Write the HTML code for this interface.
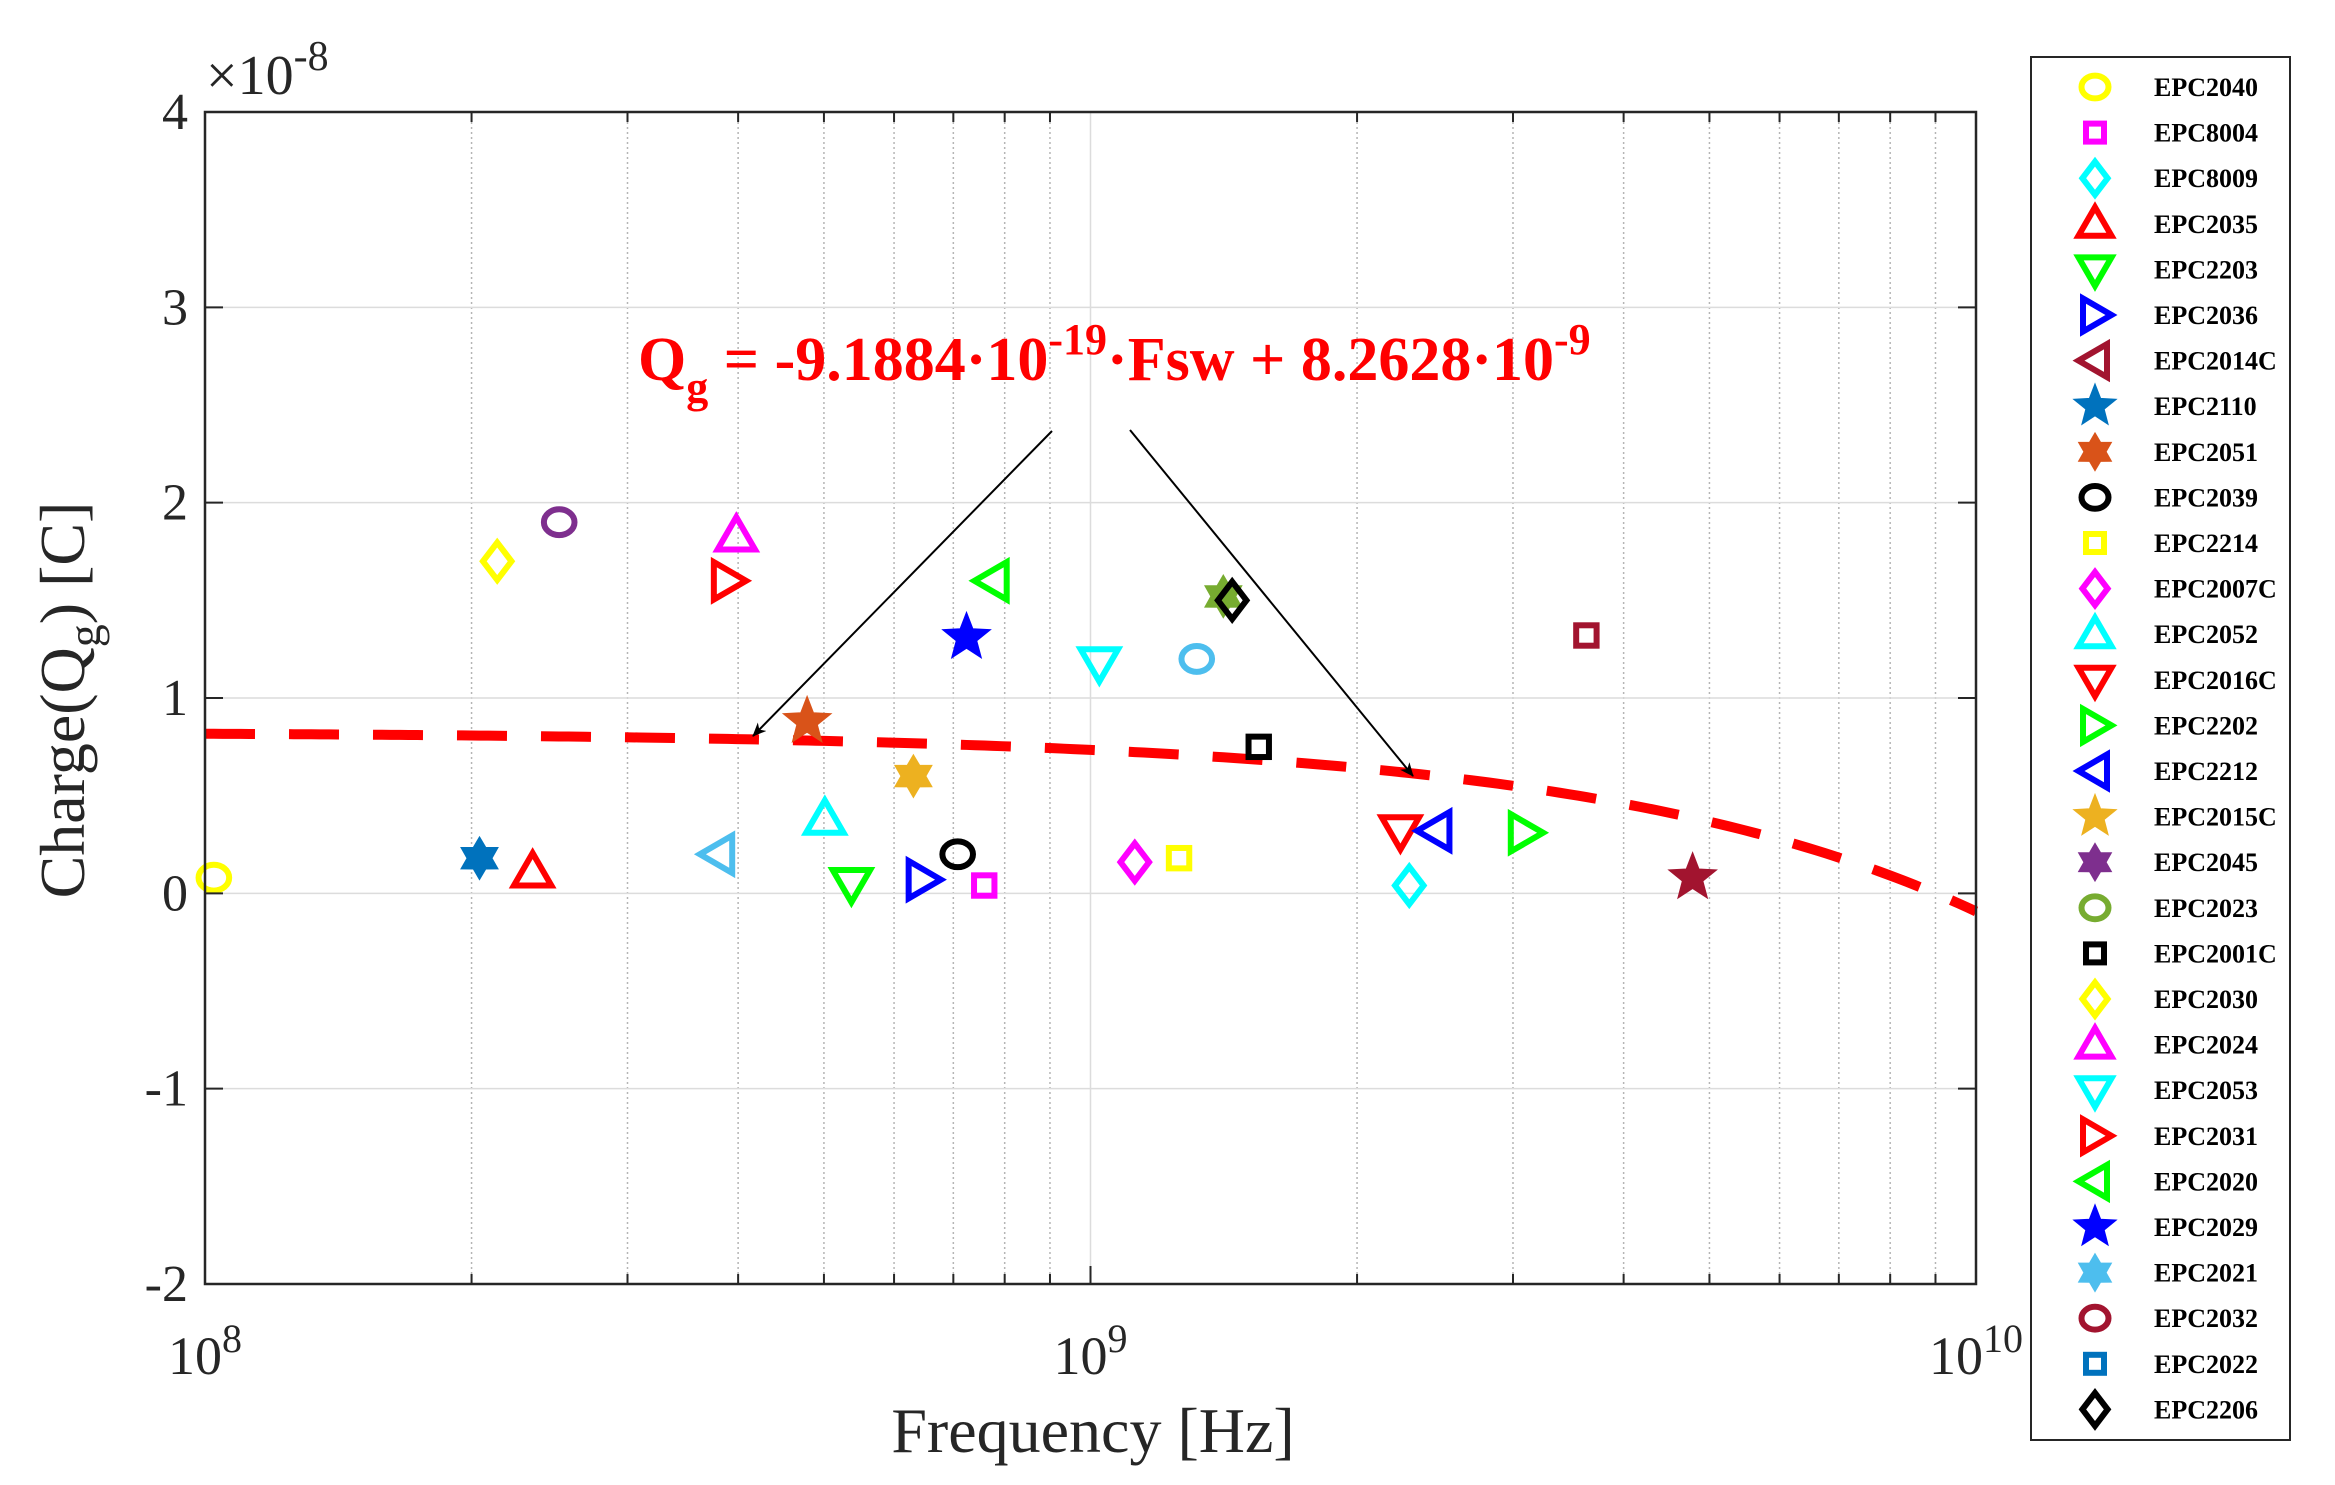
<!DOCTYPE html>
<html><head><meta charset="utf-8"><style>
html,body{margin:0;padding:0;background:#fff;}
svg{display:block;font-family:"Liberation Serif",serif;}
</style></head><body>
<svg id="chart" width="2335" height="1485" viewBox="0 0 2335 1485" xmlns="http://www.w3.org/2000/svg">
<rect x="0" y="0" width="2335" height="1485" fill="#fff"/>
<g id="grid"></g>
<g id="fit"></g>
<g id="marks"></g>
<rect x="205" y="112" width="1780" height="1175" fill="none" stroke="#262626" stroke-width="2.5" id="frame"/>
<g id="ticks"></g>
<text x="206" y="94" font-size="56" fill="#262626">×10<tspan dy="-24" font-size="42">-8</tspan></text>
<text x="1093" y="1452" font-size="64" text-anchor="middle" fill="#262626">Frequency [Hz]</text>
<text transform="translate(84,700) rotate(-90)" font-size="64" text-anchor="middle" fill="#262626">Charge(Q<tspan dy="16" font-size="46">g</tspan><tspan dy="-16">) [C]</tspan></text>
<text x="638" y="380" font-size="62" font-weight="bold" fill="#ff0000">Q<tspan dy="22" font-size="44">g</tspan><tspan dy="-22"> = -9.1884·10</tspan><tspan dy="-26" font-size="44">-19</tspan><tspan dy="26">·Fsw + 8.2628·10</tspan><tspan dy="-26" font-size="44">-9</tspan></text>
<defs><marker id="ah" markerWidth="14" markerHeight="12" refX="13" refY="6" orient="auto" markerUnits="userSpaceOnUse"><path d="M0,0 L14,6 L0,12 L4,6 Z" fill="#000"/></marker></defs>
<line x1="1052" y1="431" x2="753" y2="736" stroke="#000" stroke-width="2" marker-end="url(#ah)" />
<line x1="1130" y1="430" x2="1413" y2="776" stroke="#000" stroke-width="2" marker-end="url(#ah)" />
<g id="legend"></g>
</svg>
<script>
const names=["EPC2040","EPC8004","EPC8009","EPC2035","EPC2203","EPC2036","EPC2014C","EPC2110","EPC2051","EPC2039","EPC2214","EPC2007C","EPC2052","EPC2016C","EPC2202","EPC2212","EPC2015C","EPC2045","EPC2023","EPC2001C","EPC2030","EPC2024","EPC2053","EPC2031","EPC2020","EPC2029","EPC2021","EPC2032","EPC2022","EPC2206"];
const legendMarkers=["o","s","d","^","v",">","<","p","h","o","s","d","^","v",">","<","p","h","o","s","d","^","v",">","<","p","h","o","s","d"];
const legendColors=["#ffff00","#ff00ff","#00ffff","#ff0000","#00ff00","#0000ff","#A2142F","#0072BD","#D95319","#000000","#ffff00","#ff00ff","#00ffff","#ff0000","#00ff00","#0000ff","#EDB120","#7E2F8E","#77AC30","#000000","#ffff00","#ff00ff","#00ffff","#ff0000","#00ff00","#0000ff","#4DBEEE","#A2142F","#0072BD","#000000"];
// data points: log10 frequency [Hz], charge [x1e-8 C]
const pointLogF=[8.01,8.88,9.36,8.37,8.73,8.81,8.31,8.68,8.85,9.10,9.05,8.70,9.35,9.49,9.39,8.80,9.68,9.15,9.19,8.33,8.60,9.01,8.59,8.89,8.86,8.58,9.12,8.40,9.56,9.16];
const pointQ=[0.08,0.04,0.04,0.11,0.05,0.07,0.18,0.88,0.20,0.18,0.16,0.38,0.32,0.31,0.32,0.60,0.08,1.52,0.75,1.70,1.83,1.18,1.60,1.60,1.31,0.20,1.20,1.90,1.32,1.50];
const pointMarker=["o","s","d","^","v",">","h","p","o","s","d","^","v",">","<","h","p","h","s","d","^","v",">","<","p","<","o","o","s","d"];
const pointColor=["#ffff00","#ff00ff","#00ffff","#ff0000","#00ff00","#0000ff","#0072BD","#D95319","#000000","#ffff00","#ff00ff","#00ffff","#ff0000","#00ff00","#0000ff","#EDB120","#A2142F","#77AC30","#000000","#ffff00","#ff00ff","#00ffff","#ff0000","#00ff00","#0000ff","#4DBEEE","#4DBEEE","#7E2F8E","#A2142F","#000000"];
const yTicks=[-2,-1,0,1,2,3,4];
const xDecades=[8,9,10];
const fitSlope=-9.1884e-19, fitIntercept=8.2628e-9;

const L=205,R=1976,T=112,B=1284;
const fr=document.getElementById('frame');fr.setAttribute('width',R-L);fr.setAttribute('height',B-T);
const xs=lf=>L+(lf-8)/2*(R-L);
const ys=q=>B-(q+2)/6*(B-T);
const NS="http://www.w3.org/2000/svg";
function mk(tag,attrs,parent){const e=document.createElementNS(NS,tag);for(const k in attrs)e.setAttribute(k,attrs[k]);parent.appendChild(e);return e;}
const grid=document.getElementById('grid'),ticks=document.getElementById('ticks');
for(let d=8;d<10;d++)for(let m=2;m<=9;m++){const x=xs(d+Math.log10(m));
 const g=mk('line',{x1:x,x2:x,y1:T,y2:B,stroke:'#b5b5b5','stroke-width':1.5,'stroke-dasharray':'2,3'},grid);
 
 
 mk('line',{x1:x,x2:x,y1:B,y2:B-10,stroke:'#262626','stroke-width':2},ticks);
 mk('line',{x1:x,x2:x,y1:T,y2:T+10,stroke:'#262626','stroke-width':2},ticks);}
xDecades.forEach(d=>{const x=xs(d);
 const g=mk('line',{x1:x,x2:x,y1:T,y2:B,stroke:'#dcdcdc','stroke-width':1.5},grid);
 
 
 mk('line',{x1:x,x2:x,y1:B,y2:B-18,stroke:'#262626','stroke-width':2},ticks);
 const t=mk('text',{x:x,y:1374,'font-size':54,'text-anchor':'middle',fill:'#262626'},ticks);
 
 
 t.innerHTML='10<tspan dy="-22" font-size="40">'+d+'</tspan>';});
yTicks.forEach(v=>{const y=ys(v);
 const g=mk('line',{x1:L,x2:R,y1:y,y2:y,stroke:'#dcdcdc','stroke-width':1.5},grid);
 
 
 mk('line',{x1:L,x2:L+18,y1:y,y2:y,stroke:'#262626','stroke-width':2},ticks);
 mk('line',{x1:R,x2:R-18,y1:y,y2:y,stroke:'#262626','stroke-width':2},ticks);
 const t=mk('text',{x:188,y:y+17,'font-size':52,'text-anchor':'end',fill:'#262626'},ticks);
 
 
 t.textContent=String(v);});
let pts=[];for(let i=0;i<=200;i++){const lf=8+i/100;const f=Math.pow(10,lf);pts.push(xs(lf)+','+ys((fitSlope*f+fitIntercept)/1e-8));}
const fl=mk('polyline',{points:pts.join(' '),fill:'none',stroke:'#ff0000','stroke-width':10,'stroke-dasharray':'50,34'},document.getElementById('fit'));


function star(cx,cy,r,n,ri){let p=[];for(let i=0;i<2*n;i++){const a=-Math.PI/2+i*Math.PI/n;const rr=i%2?ri:r;p.push((cx+rr*Math.cos(a)).toFixed(1)+','+(cy+rr*Math.sin(a)).toFixed(1));}return p.join(' ');}
function marker(m,cx,cy,s,col,parent){const sw=6;let e;
 if(m==='o')e=mk('ellipse',{cx,cy,rx:s*0.45,ry:s*0.38,fill:'none',stroke:col,'stroke-width':sw},parent);
 else if(m==='s')e=mk('rect',{x:cx-s*0.3,y:cy-s*0.3,width:s*0.6,height:s*0.6,fill:'none',stroke:col,'stroke-width':sw},parent);
 else if(m==='d')e=mk('polygon',{points:`${cx},${cy-s*0.55} ${cx+s*0.42},${cy} ${cx},${cy+s*0.55} ${cx-s*0.42},${cy}`,fill:'none',stroke:col,'stroke-width':sw},parent);
 else if(m==='^')e=mk('polygon',{points:`${cx},${cy-s*0.55} ${cx+s*0.55},${cy+s*0.4} ${cx-s*0.55},${cy+s*0.4}`,fill:'none',stroke:col,'stroke-width':sw},parent);
 else if(m==='v')e=mk('polygon',{points:`${cx},${cy+s*0.55} ${cx+s*0.55},${cy-s*0.4} ${cx-s*0.55},${cy-s*0.4}`,fill:'none',stroke:col,'stroke-width':sw},parent);
 else if(m==='>')e=mk('polygon',{points:`${cx+s*0.55},${cy} ${cx-s*0.4},${cy-s*0.55} ${cx-s*0.4},${cy+s*0.55}`,fill:'none',stroke:col,'stroke-width':sw},parent);
 else if(m==='<')e=mk('polygon',{points:`${cx-s*0.55},${cy} ${cx+s*0.4},${cy-s*0.55} ${cx+s*0.4},${cy+s*0.55}`,fill:'none',stroke:col,'stroke-width':sw},parent);
 else if(m==='p')e=mk('polygon',{points:star(cx,cy,s*0.7,5,s*0.3),fill:col,stroke:col,'stroke-width':2},parent);
 else e=mk('polygon',{points:star(cx,cy,s*0.6,6,s*0.35),fill:col,stroke:col,'stroke-width':2},parent);
 return e;}
const marks=document.getElementById('marks');
pointLogF.forEach((lf,i)=>{const e=marker(pointMarker[i],xs(lf),ys(pointQ[i]),34,pointColor[i],marks);
 
 });
const lg=document.getElementById('legend');
const box=mk('rect',{x:2031,y:57,width:259,height:1383,fill:'#fff',stroke:'#262626','stroke-width':2},lg);


names.forEach((n,i)=>{const y=87+i*45.6;
 const e=marker(legendMarkers[i],2095,y,30,legendColors[i],lg);
 
 
 const t=mk('text',{x:2154,y:y+9,'font-size':26,'font-weight':'bold',fill:'#000'},lg);
 
 
 t.textContent=n;});
</script>
</body></html>
